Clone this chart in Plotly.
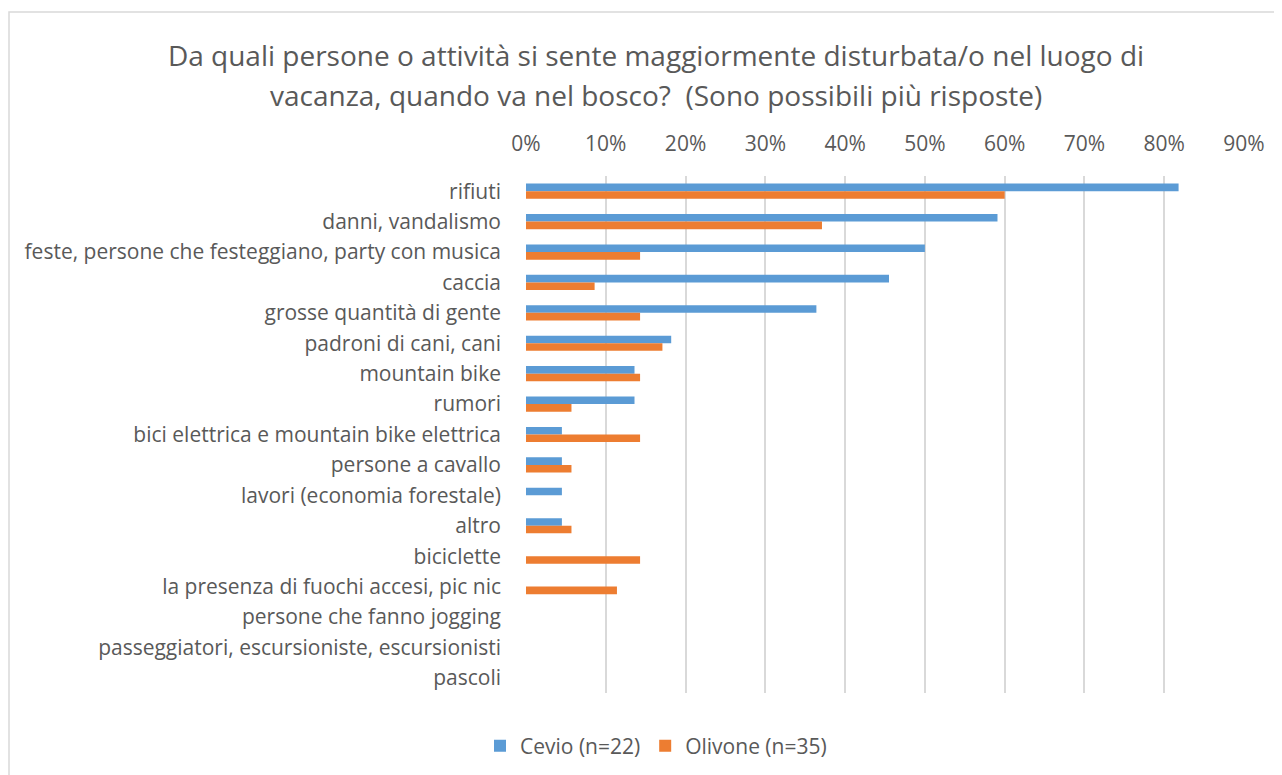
import plotly.graph_objects as go

categories = [
    "rifiuti",
    "danni, vandalismo",
    "feste, persone che festeggiano, party con musica",
    "caccia",
    "grosse quantità di gente",
    "padroni di cani, cani",
    "mountain bike",
    "rumori",
    "bici elettrica e mountain bike elettrica",
    "persone a cavallo",
    "lavori (economia forestale)",
    "altro",
    "biciclette",
    "la presenza di fuochi accesi, pic nic",
    "persone che fanno jogging",
    "passeggiatori, escursioniste, escursionisti",
    "pascoli",
]
cevio = [0.818, 0.591, 0.500, 0.455, 0.364, 0.182, 0.136, 0.136, 0.045, 0.045, 0.045, 0.045, 0, 0, 0, 0, 0]
olivone = [0.600, 0.371, 0.143, 0.086, 0.143, 0.171, 0.143, 0.057, 0.143, 0.057, 0, 0.057, 0.143, 0.114, 0, 0, 0]
tick_vals = [0, 0.1, 0.2, 0.3, 0.4, 0.5, 0.6, 0.7, 0.8, 0.9]
title_lines = [
    "Da quali persone o attività si sente maggiormente disturbata/o nel luogo di",
    "vacanza, quando va nel bosco?  (Sono possibili più risposte)",
]

W, H = 1282, 775
O = 8  # page body margin offset
L, R, T, B = 526 - O, 1282 - (1244 - O), 176 - O, 775 - (693 - O)
pw, ph = W - L - R, H - T - B

def px(x):
    return (x - O - L) / pw

def py(y):
    return 1 - (y - O - T) / ph

FONT = "Open Sans"
TXT = "#595959"

fig = go.Figure()
fig.add_trace(go.Bar(y=categories, x=cevio, orientation="h", name="Cevio (n=22)",
                     marker=dict(color="#5b9bd5", line=dict(width=0))))
fig.add_trace(go.Bar(y=categories, x=olivone, orientation="h", name="Olivone (n=35)",
                     marker=dict(color="#ed7d31", line=dict(width=0))))

fig.update_layout(
    width=W, height=H,
    margin=dict(l=L, r=R, t=T, b=B),
    paper_bgcolor="white", plot_bgcolor="white",
    font=dict(family=FONT, color=TXT, size=21),
    barmode="group", bargap=0.5, bargroupgap=0,
    title=dict(text=title_lines[0], x=px(656), xref="paper", xanchor="center",
               y=1 - (56 - O) / H, yref="container", yanchor="middle",
               font=dict(size=28, color=TXT, family=FONT)),
    xaxis=dict(side="top", range=[0, 0.9], tickvals=tick_vals, tickformat=".0%",
               showgrid=True, gridcolor="#d9d9d9", gridwidth=1.5,
               zeroline=False, showline=False, ticks="",
               ticklabelstandoff=20, tickfont=dict(size=21, color=TXT)),
    yaxis=dict(autorange="reversed", showgrid=False, showline=False, ticks="",
               ticklabelstandoff=24, tickfont=dict(size=21, color=TXT)),
    legend=dict(orientation="h", x=px(656), xanchor="center", y=py(746), yanchor="middle",
                font=dict(size=21, color=TXT), itemwidth=30, traceorder="normal"),
    shapes=[dict(type="rect", xref="paper", yref="paper",
                 x0=px(9), x1=px(1400), y0=py(900), y1=py(12),
                 line=dict(color="#d9d9d9", width=1.5), fillcolor="rgba(0,0,0,0)", layer="below")],
    annotations=[dict(text=title_lines[1], xref="paper", yref="paper", x=px(656), y=py(95),
                      xanchor="center", yanchor="middle", showarrow=False,
                      font=dict(size=28, color=TXT, family=FONT))],
)

fig.write_html("out.html")
